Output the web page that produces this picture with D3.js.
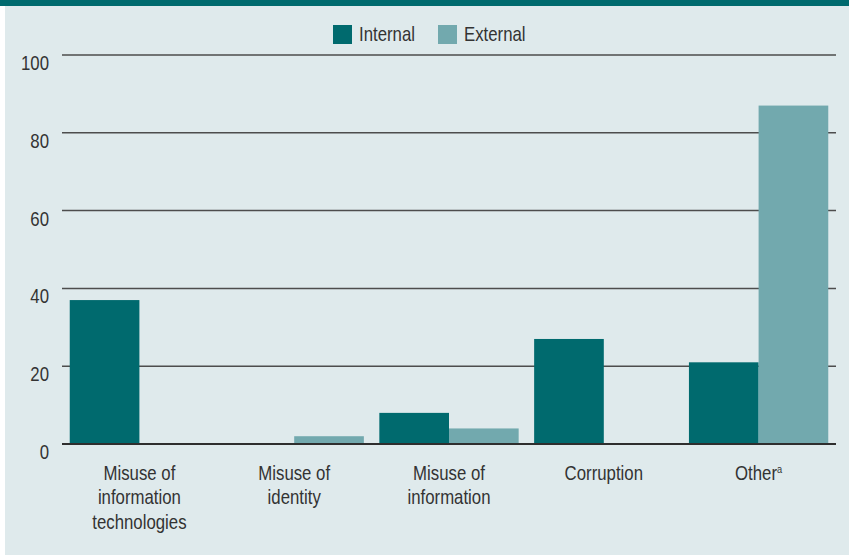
<!DOCTYPE html>
<html>
<head>
<meta charset="utf-8">
<script src="https://cdn.jsdelivr.net/npm/d3@7"></script>
<style>
  html, body { margin: 0; padding: 0; background: #ffffff; }
  svg { display: block; }
  text { font-family: "Liberation Sans", Arial, sans-serif; fill: #333333; }
</style>
</head>
<body>
<svg id="chart" width="849" height="557"></svg>
<script>
const categories = [
  ["Misuse of", "information", "technologies"],
  ["Misuse of", "identity"],
  ["Misuse of", "information"],
  ["Corruption"],
  ["Other"]
];
const seriesNames = ["Internal", "External"];
const internalValues = [37, 0, 8, 27, 21];
const externalValues = [0, 2, 4, 0, 87];
const yTicks = [0, 20, 40, 60, 80, 100];
const colors = ["#006a6e", "#72a9ae"];

const svg = d3.select("#chart");
const W = 849, H = 557;
const plotLeft = 62, plotRight = 836, plotTop = 55, plotBottom = 444;
const SX = 0.84; // condensed look
const FS = 20;

function label(parent, x, yPos, anchor) {
  return parent.append("g").attr("transform", `translate(${x},${yPos}) scale(${SX},1)`)
    .append("text").attr("x", 0).attr("y", 0).attr("text-anchor", anchor).attr("font-size", FS);
}

// background panel
svg.append("rect").attr("x", 5).attr("y", 0).attr("width", W - 5).attr("height", 555).attr("fill", "#dfeaec");
svg.append("rect").attr("x", 0).attr("y", 0).attr("width", W).attr("height", 6).attr("fill", "#006a6e");

const x0 = d3.scaleBand().domain(d3.range(categories.length)).range([plotLeft, plotRight]).paddingInner(0.1).paddingOuter(0.05);
const x1 = d3.scaleBand().domain(seriesNames).range([0, x0.bandwidth()]);
const y = d3.scaleLinear().domain([0, 100]).range([plotBottom, plotTop]);

// gridlines
svg.append("g").selectAll("line").data(yTicks.filter(d => d !== 0)).enter().append("line")
  .attr("x1", plotLeft).attr("x2", plotRight)
  .attr("y1", d => y(d)).attr("y2", d => y(d))
  .attr("stroke", "#4d4d4d").attr("stroke-width", 1.5);

// y labels
const yl = svg.append("g");
yTicks.forEach(d => label(yl, 49, y(d) + 15, "end").text(d));

// bars
const series = [internalValues, externalValues];
const groups = svg.append("g").selectAll("g").data(categories).enter().append("g")
  .attr("transform", (d, i) => `translate(${x0(i)},0)`);
groups.selectAll("rect").data((d, i) => seriesNames.map((s, k) => ({ s, v: series[k][i], k })))
  .enter().append("rect")
  .attr("x", d => x1(d.s)).attr("width", x1.bandwidth())
  .attr("y", d => y(d.v)).attr("height", d => y(0) - y(d.v))
  .attr("fill", d => colors[d.k]);

// baseline
svg.append("line").attr("x1", plotLeft).attr("x2", plotRight).attr("y1", y(0)).attr("y2", y(0))
  .attr("stroke", "#2e2e2e").attr("stroke-width", 2);

// x labels
const xl = svg.append("g");
categories.forEach((lines, i) => {
  const t = label(xl, x0(i) + x0.bandwidth() / 2, 480, "middle");
  lines.forEach((ln, j) => {
    t.append("tspan").attr("x", 0).attr("dy", j === 0 ? 0 : 24.5).text(ln);
  });
  if (i === categories.length - 1) {
    t.append("tspan").attr("font-size", 11).attr("dy", -7).text("a");
  }
});

// legend
const legend = svg.append("g");
const legendItems = [{ name: seriesNames[0], x: 333 }, { name: seriesNames[1], x: 438 }];
legendItems.forEach((it, k) => {
  legend.append("rect").attr("x", it.x).attr("y", 25).attr("width", 19).attr("height", 19).attr("fill", colors[k]);
  label(legend, it.x + 26, 41, "start").text(it.name);
});
</script>
</body>
</html>
